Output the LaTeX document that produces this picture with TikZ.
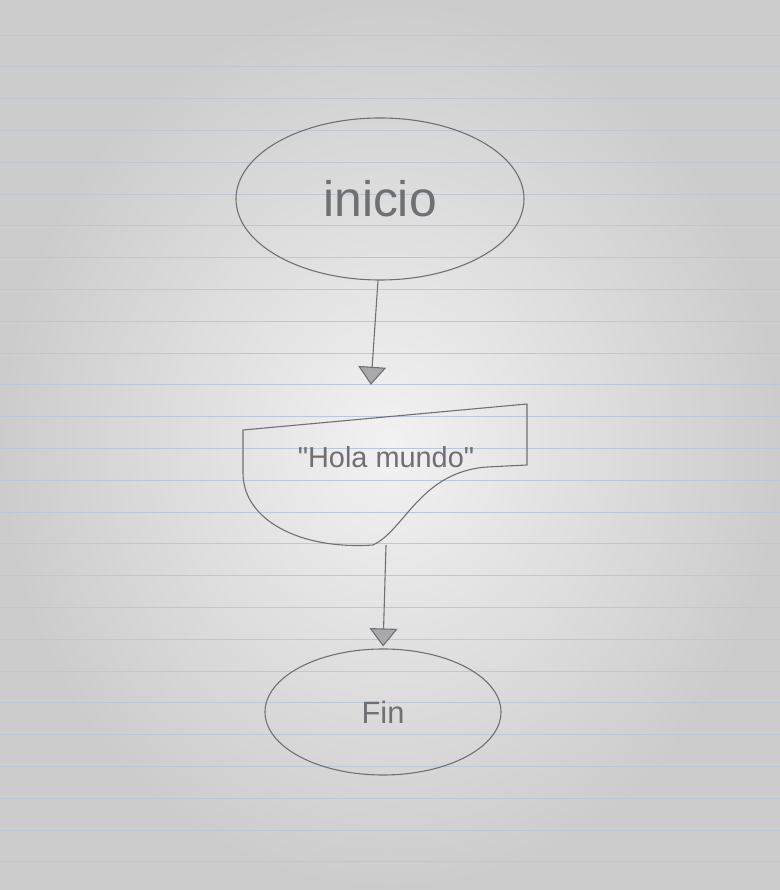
\documentclass[tikz,border=0pt]{standalone}
\usepackage{fontspec}
\setmainfont{Liberation Sans}
\usetikzlibrary{shapes.geometric,arrows.meta}
\definecolor{pencil}{HTML}{707074}
\definecolor{paper}{HTML}{F2F2F2}
\definecolor{rule}{HTML}{BCC8DA}
\begin{document}
\begin{tikzpicture}[>={Triangle[width=28bp,length=18bp,fill=pencil!60]},line join=bevel,
  pencil line/.style={draw=pencil,line width=1.1pt},
  flow/.style={pencil line,->}]
%% paper
\useasboundingbox (0bp,0bp) rectangle (780bp,890bp);
\shade[inner color=paper,outer color=gray!40] (0bp,0bp) rectangle (780bp,890bp);
\foreach \k in {0,...,26}
  \draw[rule,line width=0.9pt] (0bp,855bp-\k*31.8bp) -- (780bp,855bp-\k*31.8bp);
%%
\node (node_0) at (380bp,691bp) [ellipse,pencil line,minimum width=288bp,minimum height=162bp,text=pencil,font=\fontsize{50}{54}\selectfont] {inicio};
  \node (node_1) at (386bp,433bp) [draw=none,minimum width=284bp,minimum height=176bp,text=pencil,font=\fontsize{29}{32}\selectfont] {\textquotedbl Hola mundo\textquotedbl};
  \node (node_2) at (383bp,178bp) [ellipse,pencil line,minimum width=236bp,minimum height=126bp,text=pencil,font=\fontsize{31}{34}\selectfont] {Fin};
  \draw [pencil line] (243bp,460bp) -- (527bp,486bp) -- (527bp,425bp) -- (487bp,423bp)
    ..controls (420bp,418bp) and (405bp,360bp) .. (373bp,345bp)
    ..controls (300bp,340bp) and (243bp,370bp) .. (243bp,417bp) -- cycle;
  \draw [flow,shorten >=-16bp] ([xshift=-2bp]node_0.south) -- ([xshift=-14bp]node_1.north);
  \draw [flow,shorten >=2bp] (node_1.south) -- (node_2.north);
%
\end{tikzpicture}
\end{document}
